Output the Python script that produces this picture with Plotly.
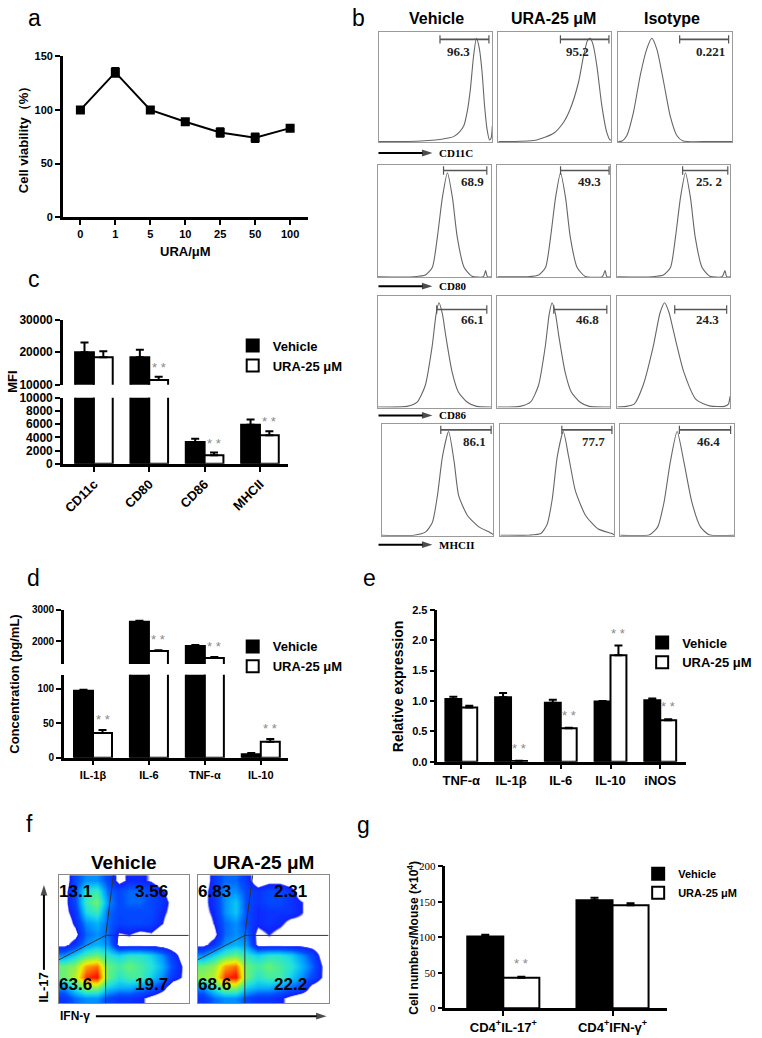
import plotly.graph_objects as go

W, H = 762, 1038
SANS = "Arial, 'Liberation Sans', sans-serif"
SERIF = "'Times New Roman', 'Liberation Serif', serif"
STAR_GRAY = "#8a8a8a"

# ---------------- data ----------------
# a: cell viability vs URA dose
ura_doses = ["0", "1", "5", "10", "25", "50", "100"]
viability = [100, 135, 100, 89, 79, 74, 83]
viability_err = [1.5, 4, 2.5, 2.5, 4, 4, 2]

# b: flow histograms, x / y as fraction of each box
cd11c_veh_x = [0, 0.2, 0.37, 0.5, 0.6, 0.66, 0.71, 0.75, 0.78, 0.807, 0.835, 0.86, 0.885, 0.91, 0.93, 0.953, 0.975, 0.99, 1.0]
cd11c_veh_y = [0.005, 0.005, 0.01, 0.02, 0.035, 0.05, 0.09, 0.15, 0.28, 0.48, 0.78, 0.94, 0.85, 0.63, 0.35, 0.12, 0.02, 0.04, 0.15]
cd11c_ura_x = [0, 0.1, 0.34, 0.49, 0.578, 0.637, 0.71, 0.755, 0.79, 0.814, 0.84, 0.873, 0.917, 0.96, 0.99, 1.0]
cd11c_ura_y = [0.005, 0.005, 0.02, 0.08, 0.18, 0.3, 0.54, 0.78, 0.92, 0.94, 0.88, 0.69, 0.33, 0.09, 0.02, 0.02]
cd11c_iso_x = [0, 0.035, 0.076, 0.134, 0.193, 0.25, 0.295, 0.34, 0.4, 0.456, 0.515, 0.57, 0.8, 1.0]
cd11c_iso_y = [0.005, 0.01, 0.06, 0.27, 0.6, 0.84, 0.94, 0.84, 0.54, 0.24, 0.06, 0.01, 0.005, 0.005]

cd80_veh_x = [0, 0.32, 0.42, 0.482, 0.526, 0.57, 0.614, 0.658, 0.70, 0.76, 0.83, 0.93, 0.95, 0.965, 1.0]
cd80_veh_y = [0.005, 0.005, 0.02, 0.09, 0.36, 0.71, 0.93, 0.71, 0.36, 0.09, 0.01, 0.005, 0.06, 0.005, 0.005]
cd80_ura_x = [0, 0.27, 0.366, 0.428, 0.472, 0.516, 0.56, 0.604, 0.646, 0.706, 0.776, 0.93, 0.955, 0.97, 1.0]
cd80_ura_y = [0.005, 0.005, 0.02, 0.09, 0.36, 0.71, 0.93, 0.71, 0.36, 0.09, 0.01, 0.005, 0.06, 0.005, 0.005]
cd80_iso_x = [0, 0.31, 0.41, 0.473, 0.517, 0.561, 0.605, 0.649, 0.691, 0.751, 0.821, 0.93, 0.955, 0.97, 1.0]
cd80_iso_y = [0.005, 0.005, 0.02, 0.09, 0.36, 0.71, 0.93, 0.71, 0.36, 0.09, 0.01, 0.005, 0.06, 0.005, 0.005]

cd86_veh_x = [0, 0.26, 0.35, 0.42, 0.48, 0.515, 0.54, 0.57, 0.6, 0.655, 0.71, 0.786, 0.87, 1.0]
cd86_veh_y = [0.005, 0.01, 0.05, 0.2, 0.55, 0.84, 0.94, 0.84, 0.64, 0.32, 0.14, 0.05, 0.01, 0.005]
cd86_ura_x = [0, 0.2, 0.295, 0.365, 0.425, 0.46, 0.485, 0.515, 0.545, 0.6, 0.655, 0.731, 0.815, 1.0]
cd86_ura_y = [0.005, 0.01, 0.05, 0.2, 0.55, 0.84, 0.94, 0.84, 0.64, 0.32, 0.14, 0.05, 0.01, 0.005]
cd86_iso_x = [0, 0.08, 0.15, 0.23, 0.32, 0.38, 0.42, 0.46, 0.5, 0.59, 0.7, 0.82, 0.95, 0.985, 1.0]
cd86_iso_y = [0.005, 0.01, 0.03, 0.2, 0.55, 0.85, 0.94, 0.85, 0.68, 0.32, 0.07, 0.015, 0.01, 0.03, 0.1]

mhcii_veh_x = [0, 0.29, 0.395, 0.455, 0.5, 0.545, 0.6, 0.65, 0.69, 0.77, 0.87, 0.97, 1.0]
mhcii_veh_y = [0.005, 0.005, 0.035, 0.12, 0.36, 0.71, 0.935, 0.66, 0.36, 0.18, 0.08, 0.03, 0.01]
mhcii_ura_x = [0, 0.25, 0.355, 0.41, 0.456, 0.5, 0.553, 0.6, 0.66, 0.75, 0.86, 0.98, 1.0]
mhcii_ura_y = [0.005, 0.005, 0.02, 0.1, 0.33, 0.71, 0.935, 0.71, 0.4, 0.18, 0.06, 0.02, 0.01]
mhcii_iso_x = [0, 0.26, 0.33, 0.385, 0.44, 0.5, 0.56, 0.63, 0.705, 0.78, 1.0]
mhcii_iso_y = [0.005, 0.01, 0.08, 0.3, 0.66, 0.935, 0.66, 0.3, 0.08, 0.01, 0.005]

b_columns = ["Vehicle", "URA-25 μM", "Isotype"]
b_markers = ["CD11C", "CD80", "CD86", "MHCII"]
b_pct = [["96.3", "95.2", "0.221"],
         ["68.9", "49.3", "25. 2"],
         ["66.1", "46.8", "24.3"],
         ["86.1", "77.7", "46.4"]]
# gate: (start, end, level) in box fractions
b_gates = [[(0.54, 0.97, 0.93), (0.55, 0.98, 0.93), (0.54, 0.97, 0.93)],
           [(0.58, 0.96, 0.95), (0.56, 0.99, 0.95), (0.58, 0.98, 0.95)],
           [(0.52, 0.96, 0.88), (0.50, 0.97, 0.88), (0.51, 0.97, 0.88)],
           [(0.53, 0.98, 0.95), (0.54, 0.98, 0.95), (0.52, 0.97, 0.95)]]

# c: MFI
mfi_markers = ["CD11c", "CD80", "CD86", "MHCII"]
mfi_vehicle = [20000, 18500, 3300, 5900]
mfi_vehicle_err = [3000, 2300, 500, 800]
mfi_ura = [18500, 11500, 1300, 4300]
mfi_ura_err = [1800, 1000, 400, 600]
mfi_sig = [False, True, True, True]

# d: cytokine concentration
cyto_labels = ["IL-1β", "IL-6", "TNF-α", "IL-10"]
cyto_vehicle = [97, 2620, 1850, 5]
cyto_vehicle_err = [1.5, 30, 35, 2]
cyto_ura = [36, 1690, 1470, 23]
cyto_ura_err = [4, 30, 30, 4]
cyto_sig = [True, True, True, True]

# e: relative expression
gene_labels = ["TNF-α", "IL-1β", "IL-6", "IL-10", "iNOS"]
gene_vehicle = [1.03, 1.06, 0.97, 0.99, 1.01]
gene_vehicle_err = [0.04, 0.07, 0.05, 0.01, 0.03]
gene_ura = [0.89, 0.01, 0.55, 1.75, 0.68]
gene_ura_err = [0.03, 0.005, 0.01, 0.16, 0.02]
gene_sig = [False, True, True, True, True]

# f: IL-17 / IFN-γ density plots (rows top -> bottom)
f_vehicle_density = [
    [0, 2, 3, 3, 2, 0.5, 1.2, 1.2, 0.8, 0, 0, 0],
    [0.5, 2, 4.5, 4.8, 2.5, 2, 2.5, 2.5, 2, 1.2, 0, 0],
    [0.5, 2, 4.8, 5.6, 3, 2, 2.5, 2.5, 2, 1.5, 0.5, 0],
    [0.5, 1.5, 4.2, 4.8, 2.5, 2, 2, 2, 2, 1.2, 0.5, 0],
    [0, 1.2, 3, 3.5, 2.5, 1.8, 2, 2, 1.8, 1, 0, 0],
    [0, 0.5, 2.5, 3, 2.5, 0.8, 1, 0.5, 0.8, 0, 0, 0],
    [0.5, 1.5, 3, 3.5, 3, 0.5, 0.5, 0.5, 0.5, 0.3, 0, 0],
    [3, 4, 5, 5.5, 4.5, 4, 4.5, 4.5, 4, 3, 1.5, 0.3],
    [5.5, 6, 8, 8.5, 5.5, 5, 5.5, 5, 4.5, 3.5, 2, 0.8],
    [5.5, 6.5, 9, 9.5, 5.5, 4.5, 5, 5, 4, 3, 1.5, 0.8],
    [3, 4.5, 6, 6, 4, 3.5, 3.5, 3, 2.5, 1.5, 0, 0],
    [1.5, 2.5, 3, 3, 2, 1.5, 1.5, 1.2, 0.5, 0, 0, 0],
]
f_ura_density = [
    [0, 1.5, 2.5, 2.5, 1.5, 0, 0.5, 0.5, 0, 0, 0, 0],
    [0.5, 1.5, 3, 3, 2, 1.5, 2, 2, 1.5, 0, 0, 0],
    [0.5, 1.5, 3, 3.8, 2, 1.5, 2, 2, 1.5, 1, 0, 0],
    [0.5, 1.2, 3, 3.8, 2, 1.2, 1.5, 1.5, 1.5, 1, 0, 0],
    [0, 1, 2.5, 3, 2, 1.2, 1.5, 1.2, 0.5, 0.5, 0, 0],
    [0, 0.5, 2.5, 3, 2.5, 0.5, 1, 0.5, 0, 0, 0, 0],
    [0.5, 1.5, 3, 3.5, 3, 0.5, 0.5, 0.5, 0.5, 0.5, 0.3, 0],
    [3, 4, 5, 5.5, 4.5, 4, 4.5, 4.5, 4, 3, 2, 0.3],
    [5.5, 6, 8, 8.5, 5.5, 5, 5.5, 5, 4.5, 3.5, 2.5, 0.8],
    [6, 6.5, 9, 9.5, 5.5, 4.5, 5, 5, 4, 3, 2, 0.8],
    [3, 4.5, 6, 6, 4, 3.5, 3.5, 3, 2.5, 2, 0.5, 0],
    [1.5, 2.5, 3, 3, 2, 1.5, 1.5, 1.2, 0.5, 0, 0, 0],
]
f_vehicle_pct = ["13.1", "3.56", "63.6", "19.7"]
f_ura_pct = ["6.83", "2.31", "68.6", "22.2"]

# g: cell numbers
cell_labels = ["CD4<sup>+</sup>IL-17<sup>+</sup>", "CD4<sup>+</sup>IFN-γ<sup>+</sup>"]
cell_vehicle = [101, 152]
cell_vehicle_err = [2.5, 3.5]
cell_ura = [43, 145]
cell_ura_err = [1.5, 3]
cell_sig = [True, False]

# ---------------- helpers ----------------
layout = dict(width=W, height=H, margin=dict(l=0, r=0, t=0, b=0),
              paper_bgcolor="white", plot_bgcolor="white", barmode="overlay",
              annotations=[], shapes=[])
traces = []
counts = {"x": 0, "y": 0}


def dom_x(a, b):
    return [a / W, b / W]


def dom_y(top, bottom):
    return [1 - bottom / H, 1 - top / H]


def axis(kind, domain, **kw):
    counts[kind] += 1
    n = counts[kind]
    suffix = "" if n == 1 else str(n)
    layout[kind + "axis" + suffix] = dict(domain=domain, **kw)
    return kind + suffix


def link(xr, yr):
    layout["xaxis" + xr[1:]]["anchor"] = yr
    layout["yaxis" + yr[1:]]["anchor"] = xr


def gp(size=11, family=SANS, bold=True, **kw):
    d = dict(showline=True, linecolor="black", linewidth=2.5, ticks="outside",
             ticklen=5, tickwidth=2, tickcolor="black", showgrid=False,
             zeroline=False, fixedrange=True,
             tickfont=dict(family=family, size=size, color="black",
                           weight="bold" if bold else "normal"))
    d.update(kw)
    return d


def text(t, px, py, size=13, bold=True, family=SANS, angle=0, color="black", **kw):
    a = dict(text=t, x=px / W, y=1 - py / H, xref="paper", yref="paper",
             showarrow=False, textangle=angle, xanchor="center", yanchor="middle",
             font=dict(family=family, size=size, color=color,
                       weight="bold" if bold else "normal"))
    a.update(kw)
    layout["annotations"].append(a)


# full-page overlay axis (pixel units) for the guide arrows
xo = axis("x", [0, 1], range=[0, W], visible=False, fixedrange=True)
yo = axis("y", [0, 1], range=[H, 0], visible=False, fixedrange=True)
link(xo, yo)


def arrow(x0, y0, x1, y1, width=2):
    traces.append(go.Scatter(
        x=[x0, x1], y=[y0, y1], xaxis=xo, yaxis=yo, mode="lines+markers",
        line=dict(color="black", width=width),
        marker=dict(symbol=["circle", "arrow"], size=[0, 11], angleref="previous",
                    color="black", line=dict(width=0)),
        showlegend=False, hoverinfo="skip"))


def stars(xr, yr, xpos, ypos, shift):
    layout["annotations"].append(dict(
        text="* *", x=xpos, y=ypos, xref=xr, yref=yr, showarrow=False,
        xanchor="center", yanchor="bottom", yshift=shift,
        font=dict(family=SANS, size=13, color=STAR_GRAY)))


def bars(xr, yr, cats, vals, errs, color, name, width, offset, legend, show):
    traces.append(go.Bar(
        x=cats, y=vals, width=width, offset=offset, xaxis=xr, yaxis=yr,
        marker=dict(color=color, line=dict(color="black", width=2)),
        error_y=dict(type="data", symmetric=False, array=errs,
                     arrayminus=[0] * len(vals), color="black",
                     thickness=2, width=4),
        name="<b>" + name + "</b>", legend=legend, showlegend=show,
        hoverinfo="skip"))


def legend_box(px, py, size=13):
    return dict(x=px / W, y=1 - py / H, xanchor="left", yanchor="top",
                bgcolor="rgba(0,0,0,0)", itemwidth=30, tracegroupgap=0,
                font=dict(family=SANS, size=size, color="black"))


# panel letters
for letter, px, py in [("a", 34, 11), ("b", 358, 11), ("c", 33, 276), ("d", 33, 579),
                       ("e", 369, 579), ("f", 29, 828), ("g", 363, 829)]:
    text(letter, px, py, size=23, bold=False)

# ---------------- a ----------------
xa = axis("x", dom_x(62, 307), **gp(type="category", range=[-0.5, 6.5]))
ya = axis("y", dom_y(50, 213), **gp(range=[0, 150], tickvals=[0, 50, 100, 150]))
link(xa, ya)
traces.append(go.Scatter(
    x=ura_doses, y=viability, xaxis=xa, yaxis=ya, mode="lines+markers",
    line=dict(color="black", width=2),
    marker=dict(symbol="square", size=9, color="black"),
    error_y=dict(type="data", array=viability_err, color="black", thickness=2, width=4),
    showlegend=False, hoverinfo="skip"))
text("Cell viability（%）", 22, 131, size=13, angle=-90)
text("URA/μM", 185, 248, size=13)

# ---------------- b ----------------
b_curves = [[(cd11c_veh_x, cd11c_veh_y), (cd11c_ura_x, cd11c_ura_y), (cd11c_iso_x, cd11c_iso_y)],
            [(cd80_veh_x, cd80_veh_y), (cd80_ura_x, cd80_ura_y), (cd80_iso_x, cd80_iso_y)],
            [(cd86_veh_x, cd86_veh_y), (cd86_ura_x, cd86_ura_y), (cd86_iso_x, cd86_iso_y)],
            [(mhcii_veh_x, mhcii_veh_y), (mhcii_ura_x, mhcii_ura_y), (mhcii_iso_x, mhcii_iso_y)]]
row_px = [(25, 137), (160, 274), (293, 406), (423, 536)]
col_px = [[(378, 492), (498, 611), (618, 732)],
          [(377, 491), (497, 610), (617, 730)],
          [(377, 491), (497, 610), (617, 730)],
          [(381, 493), (500, 614), (620, 734)]]
label_pos = [[(0.70, 0.82), (0.70, 0.82), (0.81, 0.82)],
             [(0.83, 0.85), (0.82, 0.85), (0.81, 0.85)],
             [(0.83, 0.79), (0.80, 0.79), (0.80, 0.79)],
             [(0.83, 0.85), (0.82, 0.85), (0.78, 0.85)]]
row_label_y = [148, 283, 414, 545]
box_axis = dict(range=[0, 1], showline=True, mirror=True, linecolor="#9a9a9a",
                linewidth=1, showticklabels=False, ticks="", showgrid=False,
                zeroline=False, fixedrange=True)

for r in range(4):
    for c in range(3):
        xr = axis("x", dom_x(*col_px[r][c]), **box_axis)
        yr = axis("y", dom_y(*row_px[r]), **box_axis)
        link(xr, yr)
        cx, cy = b_curves[r][c]
        traces.append(go.Scatter(
            x=cx, y=cy, xaxis=xr, yaxis=yr, mode="lines",
            line=dict(color="#666666", width=1.1, shape="spline", smoothing=0.6),
            showlegend=False, hoverinfo="skip"))
        g0, g1, gy = b_gates[r][c]
        traces.append(go.Scatter(
            x=[g0, g1], y=[gy, gy], xaxis=xr, yaxis=yr, mode="lines+markers",
            line=dict(color="#555555", width=1.6),
            marker=dict(symbol="line-ns", size=6, line=dict(color="#555555", width=1.2)),
            showlegend=False, hoverinfo="skip"))
        lx, ly = label_pos[r][c]
        layout["annotations"].append(dict(
            text=b_pct[r][c], x=lx, y=ly, xref=xr, yref=yr, showarrow=False,
            xanchor="center", yanchor="middle",
            font=dict(family=SERIF, size=13, color="#222222", weight="bold")))
    arrow(378, row_label_y[r], 432, row_label_y[r])
    text(b_markers[r], 437, row_label_y[r], size=11, family=SERIF, xanchor="left")

for name, px in zip(b_columns, [436, 553, 672]):
    text(name, px, 12, size=16)

# ---------------- c ----------------
xc = axis("x", dom_x(62, 287), **gp(size=13, type="category", range=[-0.56, 3.5], tickangle=-45))
yc_low = axis("y", dom_y(396, 463), **gp(size=12, range=[0, 10000], tickformat="d",
                                           tickvals=[0, 2000, 4000, 6000, 8000, 10000]))
yc_high = axis("y", dom_y(317, 383), **gp(size=12, range=[10000, 30000], tickformat="d",
                                            tickvals=[10000, 20000, 30000]))
link(xc, yc_low)
layout["yaxis" + yc_high[1:]]["anchor"] = xc
wc = 0.34
for yr in [yc_low, yc_high]:
    bars(xc, yr, mfi_markers, mfi_vehicle, mfi_vehicle_err, "black", "Vehicle", wc, -wc, "legend", yr == yc_low)
    bars(xc, yr, mfi_markers, mfi_ura, mfi_ura_err, "white", "URA-25 μM", wc, 0, "legend", yr == yc_low)
for i, s in enumerate(mfi_sig):
    if s:
        top = mfi_ura[i] + mfi_ura_err[i]
        stars(xc, yc_high if top > 10000 else yc_low, i + wc / 2, top, 0)
layout["legend"] = legend_box(232, 328)
text("MFI", 12, 380, size=13, angle=-90)

# ---------------- d ----------------
xd = axis("x", dom_x(63, 287), **gp(type="category", range=[-0.52, 3.48]))
yd_low = axis("y", dom_y(677, 761), **gp(size=10, range=[0, 120], tickvals=[0, 50, 100]))
yd_high = axis("y", dom_y(611, 666), **gp(size=10, range=[1280, 3000], tickformat="d",
                                            tickvals=[2000, 3000]))
link(xd, yd_low)
layout["yaxis" + yd_high[1:]]["anchor"] = xd
wd = 0.34
for yr in [yd_low, yd_high]:
    bars(xd, yr, cyto_labels, cyto_vehicle, cyto_vehicle_err, "black", "Vehicle", wd, -wd, "legend2", yr == yd_low)
    bars(xd, yr, cyto_labels, cyto_ura, cyto_ura_err, "white", "URA-25 μM", wd, 0, "legend2", yr == yd_low)
for i, s in enumerate(cyto_sig):
    if s:
        top = cyto_ura[i] + cyto_ura_err[i]
        stars(xd, yd_high if top > 1280 else yd_low, i + wd / 2, top, 1)
layout["legend2"] = legend_box(232, 633)
text("Concentration (pg/mL)", 14, 686, size=13, angle=-90)

# ---------------- e ----------------
xe = axis("x", dom_x(437, 686), **gp(size=13, type="category", range=[-0.48, 4.52]))
ye = axis("y", dom_y(611, 765), **gp(range=[0, 2.5], tickformat=".1f",
                                       tickvals=[0, 0.5, 1.0, 1.5, 2.0, 2.5]))
link(xe, ye)
we = 0.32
bars(xe, ye, gene_labels, gene_vehicle, gene_vehicle_err, "black", "Vehicle", we, -we, "legend3", True)
bars(xe, ye, gene_labels, gene_ura, gene_ura_err, "white", "URA-25 μM", we, 0, "legend3", True)
for i, s in enumerate(gene_sig):
    if s:
        stars(xe, ye, i + we / 2, gene_ura[i] + gene_ura_err[i], 3)
layout["legend3"] = legend_box(642, 629)
text("Relative expression", 397, 688, size=14, angle=-90)

# ---------------- f ----------------
jet = [[0, "#ffffff"], [0.085, "#ffffff"], [0.1, "#1020ff"], [0.22, "#0050ff"],
       [0.33, "#00a8ff"], [0.43, "#20e0e0"], [0.52, "#50f090"], [0.62, "#a0f040"],
       [0.72, "#f0f000"], [0.82, "#ff9000"], [0.92, "#ff2000"], [1, "#e00000"]]
dens_axis = dict(showline=True, mirror=True, linecolor="#888888", linewidth=1,
                 showticklabels=False, ticks="", showgrid=False, zeroline=False,
                 fixedrange=True)
pct_pos = [(0.13, 0.13), (0.71, 0.13), (0.13, 0.85), (0.71, 0.85)]
for grid, pcts, (x0, x1), title in [(f_vehicle_density, f_vehicle_pct, (58, 188), "Vehicle"),
                                     (f_ura_density, f_ura_pct, (197, 328), "URA-25 μM")]:
    xr = axis("x", dom_x(x0, x1), range=[0, 1], **dens_axis)
    yr = axis("y", dom_y(880, 1010), range=[1, 0], **dens_axis)
    link(xr, yr)
    n_rows, n_cols = len(grid), len(grid[0])
    traces.append(go.Heatmap(
        z=grid, x=[(i + 0.5) / n_cols for i in range(n_cols)],
        y=[(j + 0.5) / n_rows for j in range(n_rows)], xaxis=xr, yaxis=yr,
        colorscale=jet, zmin=0, zmax=10, zsmooth="best", showscale=False,
        hoverinfo="skip"))
    for (sx0, sy0, sx1, sy1) in [(0.42, 0, 0.36, 0.47), (0.36, 0.47, 0.36, 1),
                                 (0.36, 0.47, 1, 0.47), (0.36, 0.47, 0, 0.66)]:
        layout["shapes"].append(dict(type="line", xref=xr, yref=yr, x0=sx0, y0=sy0,
                                     x1=sx1, y1=sy1, line=dict(color="#333333", width=1)))
    for t, (qx, qy) in zip(pcts, pct_pos):
        layout["annotations"].append(dict(
            text=t, x=qx, y=qy, xref=xr, yref=yr, showarrow=False,
            xanchor="center", yanchor="middle",
            font=dict(family=SANS, size=17, color="black", weight="bold")))
    text(title, (x0 + x1) / 2, 867, size=19)

arrow(43, 976, 43, 890)
text("IL-17", 43, 994, size=13, angle=-90)
arrow(95, 1023, 326, 1023)
text("IFN-γ", 74, 1023, size=12)

# ---------------- g ----------------
xg = axis("x", dom_x(445, 667), **gp(size=13, type="category", range=[-0.53, 1.5]))
yg = axis("y", dom_y(871, 1015), **gp(size=11, family=SERIF, bold=False, range=[0, 200],
                                        tickvals=[0, 50, 100, 150, 200]))
link(xg, yg)
wg = 0.33
bars(xg, yg, cell_labels, cell_vehicle, cell_vehicle_err, "black", "Vehicle", wg, -wg, "legend4", True)
bars(xg, yg, cell_labels, cell_ura, cell_ura_err, "white", "URA-25 μM", wg, 0, "legend4", True)
for i, s in enumerate(cell_sig):
    if s:
        stars(xg, yg, i + wg / 2, cell_ura[i] + cell_ura_err[i], 4)
layout["legend4"] = legend_box(638, 864, size=11)
text("Cell numbers/Mouse (×10<sup>4</sup>)", 413, 943, size=12, angle=-90)

fig = go.Figure(data=traces, layout=layout)
fig.write_html("out.html", config={"displayModeBar": False},
               post_script="document.body.style.margin='0px';")
